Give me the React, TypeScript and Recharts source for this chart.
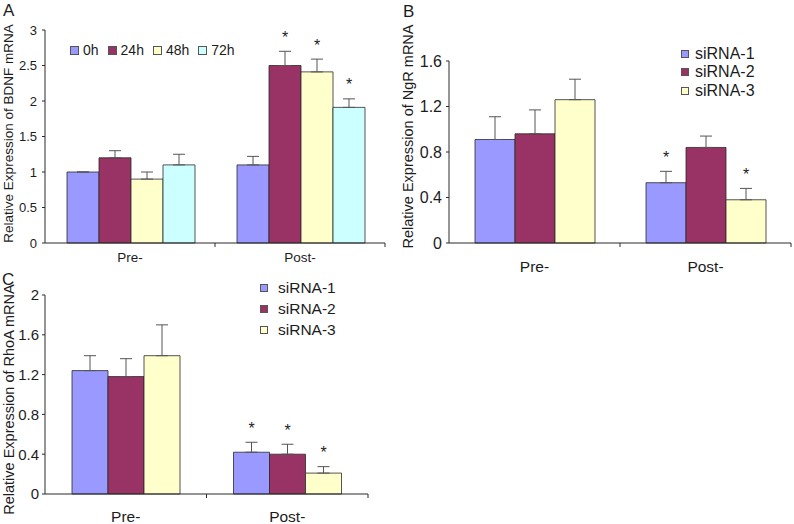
import * as React from 'react';
import { Bar, BarChart, ErrorBar, Label, LabelList, XAxis, YAxis } from 'recharts';

// Excel-2003 style palette used by all three panels.
const FONT = '"Liberation Sans", Arial, Helvetica, sans-serif';
const INK = '#1c1c1c';
const EDGE = '#2a2a2a';
const WHISKER = '#555555';
const PERIWINKLE = '#9999FF';
const MAROON = '#993366';
const CREAM = '#FFFFCC';
const AQUA = '#CCFFFF';

const phases = ['Pre-', 'Post-'];

// Panel A: BDNF over time
const bdnfNames = ['0h', '24h', '48h', '72h'];
const bdnf0h = [1.0, 1.1];
const bdnf24h = [1.2, 2.5];
const bdnf48h = [0.9, 2.41];
const bdnf72h = [1.1, 1.91];
const bdnf0hErr = [0, 0.12];
const bdnf24hErr = [0.1, 0.2];
const bdnf48hErr = [0.1, 0.18];
const bdnf72hErr = [0.15, 0.12];
const bdnfStars = [
  [false, false],
  [false, true],
  [false, true],
  [false, true],
];
const bdnfTicks = [0, 0.5, 1, 1.5, 2, 2.5, 3];

// Panel B: NgR after siRNA
const sirnaNames = ['siRNA-1', 'siRNA-2', 'siRNA-3'];
const ngr1 = [0.91, 0.53];
const ngr2 = [0.96, 0.84];
const ngr3 = [1.26, 0.38];
const ngr1Err = [0.2, 0.1];
const ngr2Err = [0.21, 0.1];
const ngr3Err = [0.18, 0.1];
const ngrStars = [
  [false, true],
  [false, false],
  [false, true],
];
const ngrTicks = [0, 0.4, 0.8, 1.2, 1.6];

// Panel C: RhoA after siRNA
const rhoa1 = [1.24, 0.42];
const rhoa2 = [1.18, 0.4];
const rhoa3 = [1.39, 0.21];
const rhoa1Err = [0.15, 0.1];
const rhoa2Err = [0.18, 0.1];
const rhoa3Err = [0.31, 0.065];
const rhoaStars = [
  [false, true],
  [false, true],
  [false, true],
];
const rhoaTicks = [0, 0.4, 0.8, 1.2, 1.6, 2];

interface Series {
  key: string;
  name: string;
  fill: string;
  values: number[];
  errs: number[];
  stars: boolean[];
}

function buildRows(series: Series[]) {
  return phases.map((phase, i) => {
    const row: Record<string, unknown> = { phase };
    series.forEach((s) => {
      row[s.key] = s.values[i];
      row[`${s.key}Err`] = [0, s.errs[i]];
    });
    return row;
  });
}

// Puts a "*" just above the whisker, using the bar's own px-per-unit.
const starLabel = (s: Series) => (props: any) => {
  const vb = props.viewBox ?? props;
  const index = props.index;
  if (index == null || !s.stars[index]) return null;
  const value = s.values[index];
  const pxPerUnit = Math.abs(vb.height) / value;
  const top = Math.min(vb.y, vb.y + vb.height) - s.errs[index] * pxPerUnit;
  return (
    <text
      x={vb.x + vb.width / 2}
      y={top - 8.5}
      textAnchor="middle"
      fontSize={16}
      fontFamily={FONT}
      fill={INK}
    >
      *
    </text>
  );
};

const phaseTick = (fontSize: number, drop: number) => (props: any) => {
  const { x, y, payload } = props;
  const edge = typeof payload?.offset === 'number' ? x + payload.offset : null;
  return (
    <g>
      {edge != null ? <line x1={edge} x2={edge} y1={y} y2={y + 4} stroke={EDGE} /> : null}
      <text
        x={x}
        y={y + drop}
        dy="0.35em"
        textAnchor="middle"
        fontSize={fontSize}
        fontFamily={FONT}
        fill={INK}
      >
        {payload.value}
      </text>
    </g>
  );
};

interface PanelProps {
  series: Series[];
  width: number;
  height: number;
  margin: { top: number; right: number; left: number; bottom: number };
  yWidth: number;
  xHeight: number;
  domain: [number, number];
  ticks: number[];
  tickFont: number;
  tickMargin: number;
  phaseFont: number;
  phaseDrop: number;
  catGap: number;
  yLabel: string;
  yLabelFont: number;
  yLabelX: number;
  yLabelShift: number;
}

function Panel(p: PanelProps) {
  const rows = buildRows(p.series);
  return (
    <BarChart
      width={p.width}
      height={p.height}
      data={rows}
      margin={p.margin}
      barGap={0}
      barCategoryGap={p.catGap}
    >
      <XAxis
        dataKey="phase"
        interval={0}
        height={p.xHeight}
        tickSize={0}
        tickMargin={0}
        tickLine={false}
        axisLine={{ stroke: EDGE }}
        tick={phaseTick(p.phaseFont, p.phaseDrop)}
      />
      <YAxis
        width={p.yWidth}
        domain={p.domain}
        ticks={p.ticks}
        interval={0}
        tickSize={3}
        tickMargin={p.tickMargin}
        axisLine={{ stroke: EDGE }}
        tickLine={{ stroke: EDGE }}
        tick={{ fontSize: p.tickFont, fontFamily: FONT, fill: INK }}
      >
        <Label
          content={(lp: any) => {
            const vb = lp.viewBox ?? { x: 0, y: 0, width: 0, height: 0 };
            const cx = vb.x + p.yLabelX;
            const cy = vb.y + vb.height / 2 + p.yLabelShift;
            return (
              <text
                transform={`translate(${cx},${cy}) rotate(-90)`}
                textAnchor="middle"
                fontSize={p.yLabelFont}
                fontFamily={FONT}
                fill={INK}
              >
                {p.yLabel}
              </text>
            );
          }}
        />
      </YAxis>
      {p.series.map((s) => (
        <Bar
          key={s.key}
          dataKey={s.key}
          name={s.name}
          fill={s.fill}
          stroke={EDGE}
          strokeWidth={0.8}
          isAnimationActive={false}
        >
          <ErrorBar
            dataKey={`${s.key}Err`}
            direction="y"
            width={6}
            stroke={WHISKER}
            strokeWidth={1}
          />
          <LabelList content={starLabel(s)} />
        </Bar>
      ))}
    </BarChart>
  );
}

function Swatch({ fill, size = 8 }: { fill: string; size?: number }) {
  return (
    <span
      style={{
        display: 'inline-block',
        width: size,
        height: size,
        background: fill,
        border: '1px solid #555',
        boxSizing: 'border-box',
      }}
    />
  );
}

const bdnfFills = [PERIWINKLE, MAROON, CREAM, AQUA];
const sirnaFills = [PERIWINKLE, MAROON, CREAM];

export default function App() {
  const bdnfVals = [bdnf0h, bdnf24h, bdnf48h, bdnf72h];
  const bdnfErrs = [bdnf0hErr, bdnf24hErr, bdnf48hErr, bdnf72hErr];
  const seriesA: Series[] = bdnfNames.map((name, i) => ({
    key: `a${i}`,
    name,
    fill: bdnfFills[i],
    values: bdnfVals[i],
    errs: bdnfErrs[i],
    stars: bdnfStars[i],
  }));
  const ngrVals = [ngr1, ngr2, ngr3];
  const ngrErrs = [ngr1Err, ngr2Err, ngr3Err];
  const seriesB: Series[] = sirnaNames.map((name, i) => ({
    key: `b${i}`,
    name,
    fill: sirnaFills[i],
    values: ngrVals[i],
    errs: ngrErrs[i],
    stars: ngrStars[i],
  }));
  const rhoaVals = [rhoa1, rhoa2, rhoa3];
  const rhoaErrs = [rhoa1Err, rhoa2Err, rhoa3Err];
  const seriesC: Series[] = sirnaNames.map((name, i) => ({
    key: `c${i}`,
    name,
    fill: sirnaFills[i],
    values: rhoaVals[i],
    errs: rhoaErrs[i],
    stars: rhoaStars[i],
  }));

  const letter: React.CSSProperties = {
    position: 'absolute',
    fontSize: 17,
    lineHeight: '17px',
    color: INK,
  };

  return (
    <div
      style={{
        position: 'absolute',
        left: 0,
        top: 0,
        width: 794,
        height: 524,
        background: '#fff',
        fontFamily: FONT,
        overflow: 'hidden',
      }}
    >
      <div style={{ position: 'absolute', left: 0, top: 0 }}>
        <Panel
          series={seriesA}
          width={400}
          height={270}
          margin={{ top: 30, right: 15, left: 0, bottom: 0 }}
          yWidth={45}
          xHeight={27}
          domain={[0, 3]}
          ticks={bdnfTicks}
          tickFont={13}
          tickMargin={5}
          phaseFont={13.5}
          phaseDrop={14}
          catGap={22}
          yLabel="Relative Expression of BDNF mRNA"
          yLabelFont={13.5}
          yLabelX={13}
          yLabelShift={-3}
        />
      </div>
      <div style={{ position: 'absolute', left: 400, top: 0 }}>
        <Panel
          series={seriesB}
          width={394}
          height={280}
          margin={{ top: 61, right: 3, left: 0, bottom: 0 }}
          yWidth={49}
          xHeight={37}
          domain={[0, 1.6]}
          ticks={ngrTicks}
          tickFont={16}
          tickMargin={4}
          phaseFont={15.5}
          phaseDrop={24}
          catGap={26}
          yLabel="Relative Expression of NgR mRNA"
          yLabelFont={14.5}
          yLabelX={13}
          yLabelShift={-15.5}
        />
      </div>
      <div style={{ position: 'absolute', left: 0, top: 270 }}>
        <Panel
          series={seriesC}
          width={400}
          height={254}
          margin={{ top: 25, right: 32, left: 0, bottom: 0 }}
          yWidth={45}
          xHeight={30}
          domain={[0, 2]}
          ticks={rhoaTicks}
          tickFont={15}
          tickMargin={3}
          phaseFont={15.5}
          phaseDrop={23}
          catGap={27}
          yLabel="Relative Expression of RhoA mRNA"
          yLabelFont={14.5}
          yLabelX={14}
          yLabelShift={5}
        />
      </div>

      {/* legend A: one row */}
      <div
        style={{
          position: 'absolute',
          left: 70,
          top: 42,
          display: 'flex',
          alignItems: 'center',
          fontSize: 14,
          lineHeight: '17px',
          color: INK,
        }}
      >
        {seriesA.map((s) => (
          <span key={s.key} style={{ display: 'flex', alignItems: 'center', marginRight: 9 }}>
            <Swatch fill={s.fill} size={9} />
            <span style={{ marginLeft: 4 }}>{s.name}</span>
          </span>
        ))}
      </div>

      {/* legend B */}
      <div style={{ position: 'absolute', left: 681, top: 45, fontSize: 16, color: INK }}>
        {seriesB.map((s) => (
          <div key={s.key} style={{ display: 'flex', alignItems: 'center', height: 18.3 }}>
            <Swatch fill={s.fill} />
            <span style={{ marginLeft: 6 }}>{s.name}</span>
          </div>
        ))}
      </div>

      {/* legend C */}
      <div style={{ position: 'absolute', left: 260, top: 277.5, fontSize: 15.5, color: INK }}>
        {seriesC.map((s) => (
          <div key={s.key} style={{ display: 'flex', alignItems: 'center', height: 21 }}>
            <Swatch fill={s.fill} />
            <span style={{ marginLeft: 10 }}>{s.name}</span>
          </div>
        ))}
      </div>

      <div style={{ ...letter, left: 3, top: 2 }}>A</div>
      <div style={{ ...letter, left: 403, top: 3 }}>B</div>
      <div style={{ ...letter, left: 2, top: 271 }}>C</div>
    </div>
  );
}
